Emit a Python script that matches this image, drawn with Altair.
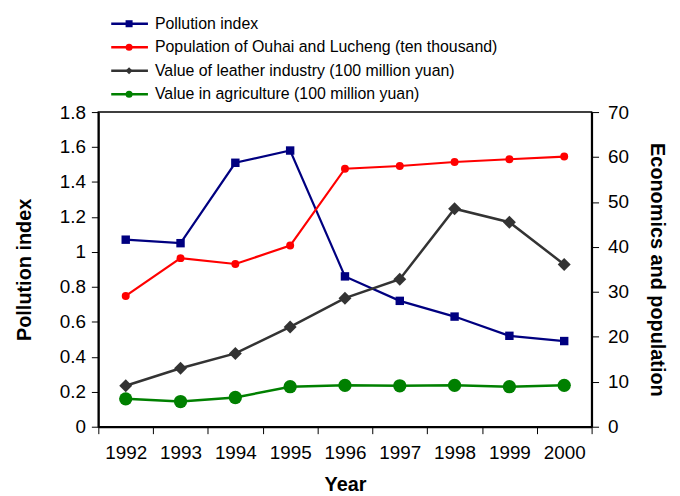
import altair as alt
import pandas as pd

years = ["1992", "1993", "1994", "1995", "1996", "1997", "1998", "1999", "2000"]
pollution = [1.07, 1.05, 1.51, 1.58, 0.86, 0.72, 0.63, 0.52, 0.49]
population = [29.1, 37.5, 36.2, 40.3, 57.4, 58.0, 58.9, 59.5, 60.1]
leather = [9.1, 13.0, 16.3, 22.2, 28.6, 32.8, 48.5, 45.5, 36.1]
agriculture = [6.2, 5.6, 6.5, 8.9, 9.2, 9.1, 9.2, 8.9, 9.2]

series_names = [
    "Pollution index",
    "Population of Ouhai and Lucheng (ten thousand)",
    "Value of leather industry (100 million yuan)",
    "Value in agriculture (100 million yuan)",
]
series_colors = ["#000080", "#ff0000", "#333333", "#008000"]
series_shapes = ["square", "circle", "diamond", "circle"]
series_sizes = [72, 64, 170, 180]
legend_sizes = [50, 50, 70, 60]
series_widths = [2.2, 2.2, 2.5, 2.5]

FONT = "Liberation Sans"

x_enc = alt.X(
    "Year:N",
    sort=years,
    scale=alt.Scale(type="band", paddingInner=0, paddingOuter=0),
    axis=alt.Axis(
        title="Year", labelAngle=0, tickBand="extent", tickSize=7,
        labelPadding=10, titlePadding=12, domainWidth=2, domainColor="black",
        tickColor="black", labelFontSize=19, titleFontSize=20,
        titleFontWeight="bold", labelColor="black", titleColor="black",
    ),
)


def series_layer(values, idx, y_enc):
    df = pd.DataFrame({"Year": years, "value": values})
    base = alt.Chart(df).encode(x=x_enc, y=y_enc)
    line = base.mark_line(color=series_colors[idx], strokeWidth=series_widths[idx])
    pts = base.mark_point(
        filled=True, opacity=1, color=series_colors[idx],
        shape=series_shapes[idx], size=series_sizes[idx],
    )
    return line + pts


y_left = alt.Y(
    "value:Q",
    scale=alt.Scale(domain=[0, 1.8], nice=False, zero=True),
    axis=alt.Axis(
        title="Pollution index", orient="left",
        values=[0, 0.2, 0.4, 0.6, 0.8, 1.0, 1.2, 1.4, 1.6, 1.8], format="~g",
        grid=False, tickSize=7, labelPadding=6, titlePadding=25,
        domainWidth=2, domainColor="black", tickColor="black",
        labelFontSize=19, titleFontSize=20, titleFontWeight="bold",
        labelColor="black", titleColor="black",
    ),
)
y_right = alt.Y(
    "value:Q",
    scale=alt.Scale(domain=[0, 70], nice=False, zero=True),
    axis=alt.Axis(
        title="Economics and population", orient="right",
        values=[0, 10, 20, 30, 40, 50, 60, 70],
        grid=False, tickSize=7, labelPadding=9, titlePadding=18,
        domainWidth=2, domainColor="black", tickColor="black",
        labelFontSize=19, titleFontSize=20, titleFontWeight="bold",
        labelColor="black", titleColor="black",
    ),
)

left = series_layer(pollution, 0, y_left)
right = alt.layer(
    series_layer(population, 1, y_right),
    series_layer(leather, 2, y_right),
    series_layer(agriculture, 3, y_right),
)

main = alt.layer(left, right).resolve_scale(y="independent").properties(
    width=497, height=317,
    view=alt.ViewBackground(stroke="black", strokeWidth=1.5),
)

leg_df = pd.DataFrame({"series": series_names, "order": [0, 1, 2, 3]})
leg_y = alt.Y("order:Q", scale=alt.Scale(domain=[-0.295, 3.165], reverse=True, nice=False, zero=False), axis=None)
leg_color = alt.Color("series:N", scale=alt.Scale(domain=series_names, range=series_colors), legend=None)
leg_base = alt.Chart(leg_df)
leg_rule = leg_base.mark_rule(strokeWidth=2.5).encode(
    x=alt.value(13), x2=alt.value(50), y=leg_y, color=leg_color
)
leg_pts = leg_base.mark_point(filled=True, opacity=1).encode(
    x=alt.value(31), y=leg_y, color=leg_color,
    shape=alt.Shape("series:N", scale=alt.Scale(domain=series_names, range=series_shapes), legend=None),
    size=alt.Size("series:N", scale=alt.Scale(domain=series_names, range=legend_sizes), legend=None),
)
leg_text = leg_base.mark_text(align="left", baseline="middle", fontSize=16, font=FONT, color="black").encode(
    x=alt.value(57), y=leg_y, text="series:N"
)
legend = alt.layer(leg_rule, leg_pts, leg_text).properties(
    width=497, height=82,
    view=alt.ViewBackground(strokeWidth=0),
)

chart = alt.vconcat(legend, main, spacing=14, bounds="flush").configure(font=FONT)

chart.save("out.html", embed_options={"renderer": "svg", "actions": False})
